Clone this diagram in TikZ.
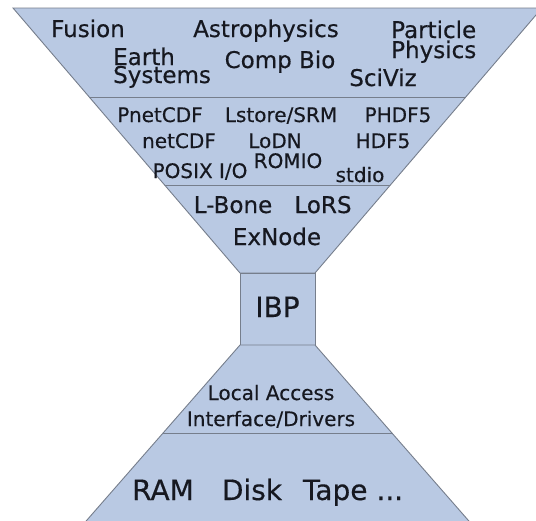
\documentclass[tikz,border=0pt]{standalone}
\usepackage{fontspec}
\setmainfont[FakeBold=0.4]{DejaVu Sans}
\usepackage{tikz}
\usetikzlibrary{calc}
\definecolor{FunnelBlue}{RGB}{185,201,227}
\definecolor{EdgeGrey}{RGB}{118,126,140}
\definecolor{TxtDark}{RGB}{22,24,32}

\begin{document}
\begin{tikzpicture}[x=1pt,y=-1pt,
    layer/.style={fill=FunnelBlue,draw=EdgeGrey,line width=0.9pt,line join=miter},
    sep/.style={draw=EdgeGrey,line width=0.9pt},
    lbl/.style={text=TxtDark,inner sep=0pt,anchor=base},
    apps/.style={lbl,font=\fontsize{23}{18}\selectfont},
    libs/.style={lbl,font=\fontsize{20}{22}\selectfont},
    core/.style={lbl,font=\fontsize{28}{30}\selectfont}]
  \useasboundingbox (0,0) rectangle (536,520);
  \clip (0,0) rectangle (536,520);

  % funnel corners
  \coordinate (tl) at (13,8);
  \coordinate (tr) at (542,8);
  \coordinate (nl) at (240,273);
  \coordinate (nr) at (315,273);
  \coordinate (bl) at (240,345);
  \coordinate (br) at (315,345);
  \coordinate (fl) at (87,520);
  \coordinate (fr) at (468,520);

  % upper funnel
  \draw[layer] (tl) -- (tr) -- (nr) -- (nl) -- cycle;
  \draw[sep] ($(tl)!0.336!(nl)$) -- ($(tr)!0.336!(nr)$);
  \draw[sep] ($(tl)!0.668!(nl)$) -- ($(tr)!0.668!(nr)$);

  % narrow neck
  \draw[layer] (nl) rectangle (br);

  % lower base
  \draw[layer] (bl) -- (br) -- ($(br)!1.05!(fr)$) -- ($(bl)!1.05!(fl)$) -- cycle;
  \draw[sep] ($(bl)!0.503!(fl)$) -- ($(br)!0.503!(fr)$);

  % applications (multi-line nodes sit on their last baseline)
  \node[apps] (fusion) at (88,37) {Fusion};
  \node[apps] (astro) at (266,37) {Astrophysics};
  \node[apps,anchor=base west,align=left,font=\fontsize{23}{20}\selectfont] (particle) at (391,58) {Particle\\Physics};
  \node[apps,anchor=base west,align=left] (earth) at (113,83) {Earth\\Systems};
  \node[apps] (compbio) at (280,68) {Comp Bio};
  \node[apps] (sciviz) at (383,86) {SciViz};

  % libraries
  \node[libs] (pnetcdf) at (160,122) {PnetCDF};
  \node[libs] (lstore) at (281,122) {Lstore/SRM};
  \node[libs] (phdf) at (398,122) {PHDF5};
  \node[libs] (netcdf) at (179,148) {netCDF};
  \node[libs] (lodn) at (275,148) {LoDN};
  \node[libs] (hdf) at (383,148) {HDF5};
  \node[libs] (posix) at (200,178) {POSIX I/O};
  \node[libs] (romio) at (288,168) {ROMIO};
  \node[libs] (stdio) at (360,182) {stdio};

  % logistical tools
  \node[apps] (lbone) at (233,213) {L-Bone};
  \node[apps] (lors) at (323,213) {LoRS};
  \node[apps] (exnode) at (277,245) {ExNode};

  \node[core] (ibp) at (277.5,317) {IBP};

  % local side
  \node[libs,align=center,font=\fontsize{20}{26}\selectfont] (local) at (271,426)
    {Local Access\\Interface/Drivers};
  \node[core] (ram) at (163,500) {RAM};
  \node[core] (disk) at (252,500) {Disk};
  \node[core] (tape) at (353,500) {Tape ...};
\end{tikzpicture}
\end{document}
